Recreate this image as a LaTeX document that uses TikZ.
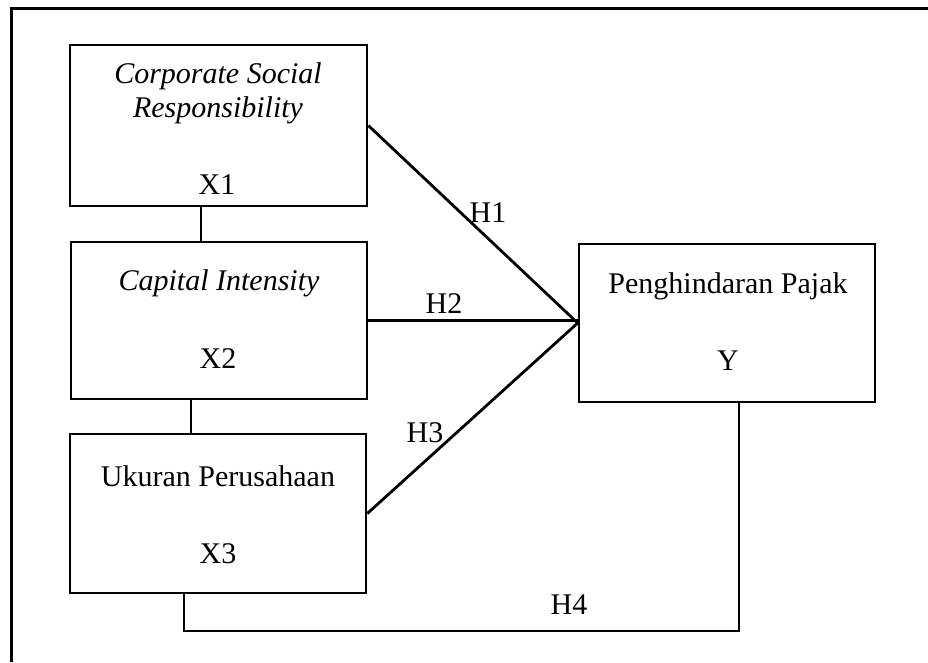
\documentclass[tikz,border=0pt]{standalone}
\usepackage{fontspec}
\setmainfont{Liberation Serif}
\begin{document}
\begin{tikzpicture}[x=1pt,y=-1pt,
  box/.style={draw=black,line width=2.6pt,rectangle,inner sep=0pt},
  txt/.style={anchor=base,inner sep=0pt,font=\fontsize{30}{34}\selectfont},
  itxt/.style={anchor=base,inner sep=0pt,font=\fontsize{30}{34}\selectfont\itshape},
  conn/.style={draw=black,line width=2.8pt},
  frame/.style={draw=black,line width=3pt}]
\useasboundingbox (0,0) rectangle (928,662);
% outer frame (top and left edges visible)
\coordinate (f0) at (11,662);
\coordinate (f1) at (11,8);
\coordinate (f2) at (928,8);
\draw[frame] (f0) -- (f1) -- (f2);
% boxes
\node[box,minimum width=297pt,minimum height=161pt] (X1) at (218.5,125.5) {};
\node[box,minimum width=296pt,minimum height=157pt] (X2) at (219,320.5) {};
\node[box,minimum width=296pt,minimum height=159pt] (X3) at (218,513.5) {};
\node[box,minimum width=296pt,minimum height=158pt] (Y) at (727,323) {};
% box texts
\node[itxt] (t1a) at (218,83) {Corporate Social};
\node[itxt] (t1b) at (218,117) {Responsibility};
\node[txt] (t1c) at (217,194) {X1};
\node[itxt] (t2a) at (219,290) {Capital Intensity};
\node[txt] (t2b) at (218,368) {X2};
\node[txt] (t3a) at (218,486) {Ukuran Perusahaan};
\node[txt] (t3b) at (218,563) {X3};
\node[txt] (tya) at (728,293) {Penghindaran Pajak};
\node[txt] (tyb) at (728,370) {Y};
% connectors between X boxes
\coordinate (c1) at (201,0);
\coordinate (c2) at (191,0);
\draw[conn] (X1.south -| c1) -- (X2.north -| c1);
\draw[conn] (X2.south -| c2) -- (X3.north -| c2);
% hypothesis paths
\draw[conn] (X1.east) -- (Y.west);
\draw[conn] (X2.east) -- (X2.east -| Y.west);
\draw[conn] (X3.east) -- (Y.west);
\coordinate (b1) at (184,631);
\coordinate (b2) at (739,631);
\draw[conn] (X3.south -| b1) -- (b1) -- (b2) -- (Y.south -| b2);
% labels
\node[txt] (h1) at (488,222) {H1};
\node[txt] (h2) at (444,313) {H2};
\node[txt] (h3) at (425,442) {H3};
\node[txt] (h4) at (569,614) {H4};
\end{tikzpicture}
\end{document}
